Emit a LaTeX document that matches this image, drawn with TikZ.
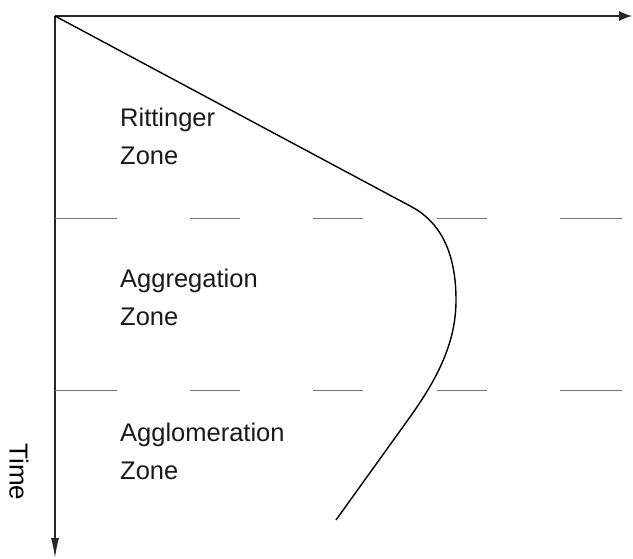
\documentclass[tikz,border=0pt]{standalone}
\usepackage{fontspec}
\setmainfont{Liberation Sans}
\usetikzlibrary{arrows.meta}
\tikzset{
  axis/.style     = {line width=1.3pt, black!85},
  zonesep/.style  = {line width=0.8pt, black!55},
  profile/.style  = {line width=1.4pt, black},
  zonelbl/.style  = {font=\fontsize{25.5}{38}\selectfont, align=left,
                     anchor=base west, inner sep=0pt, text=black!90},
}

\begin{document}
\begin{tikzpicture}[x=1pt, y=-1pt]
  \useasboundingbox (0,0) rectangle (633,559);
  % axes
  \coordinate (o) at (55,16);
  \coordinate (xend) at (632,16);
  \coordinate (yend) at (55,558);
  \draw[axis, -{Latex[length=13pt, width=10pt]}] (o) -- (xend);
  \draw[axis, -{Latex[length=20pt, width=8pt]}] (o) -- (yend);
  \node[font=\fontsize{26}{30}\selectfont, rotate=-90] (time) at (19,472) {Time};
  % zone borders
  \foreach \y in {218,390}{
    \foreach \a/\b in {55/117, 190/240, 313/363, 437/487, 560/622}
      \draw[zonesep] (\a,\y) -- (\b,\y);
  }
  % zone names (base = last line)
  \node[zonelbl] (ritt) at (120,165) {Rittinger\\Zone};
  \node[zonelbl] (aggr) at (120,326) {Aggregation\\Zone};
  \node[zonelbl] (aggl) at (120,479) {Agglomeration\\Zone};
  % profile
  \coordinate (bend) at (412,207);
  \coordinate (tip) at (456,300);
  \coordinate (low) at (410,417);
  \coordinate (end) at (336,520);
  \draw[profile] (o) -- (bend)
    .. controls (445,225) and (456,260) .. (tip)
    .. controls (456,340) and (440,375) .. (low) -- (end);
\end{tikzpicture}
\end{document}
